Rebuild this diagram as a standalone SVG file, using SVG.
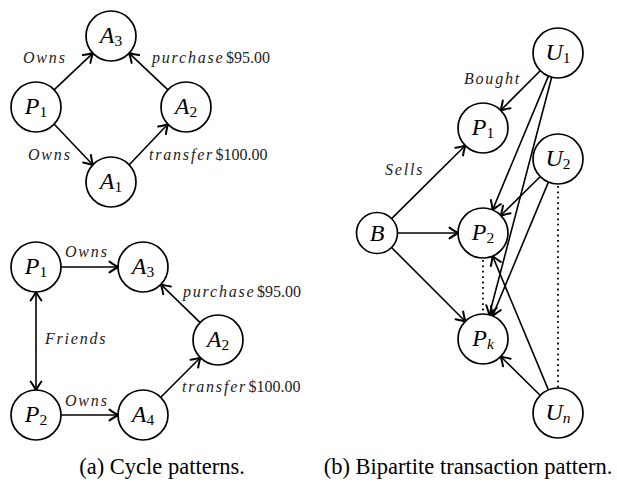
<svg xmlns="http://www.w3.org/2000/svg" width="617" height="482" viewBox="0 0 617 482">
<style>
.n{fill:#fff;stroke:#000;stroke-width:1.7}
.e{fill:none;stroke:#000;stroke-width:1.6}
.d{fill:none;stroke:#000;stroke-width:1.8;stroke-dasharray:1.8 3.6}
.nl{font-family:'Liberation Serif','Times New Roman',serif;font-size:24px;text-anchor:middle;fill:#000}
.v{font-style:italic}
.s{font-size:15.5px}
.el{font-family:'Liberation Serif','Times New Roman',serif;font-size:16px;fill:#222}
.i{font-style:italic;letter-spacing:1.8px}
.cap{font-family:'Liberation Serif','Times New Roman',serif;font-size:22.5px;text-anchor:middle;fill:#000}
</style>
<defs>
<marker id="ar" viewBox="-11 -7 13 14" refX="0" refY="0" markerWidth="13" markerHeight="14" markerUnits="userSpaceOnUse" orient="auto-start-reverse">
<path d="M-9,-5.4 Q-3,-1.2 0,0 Q-3,1.2 -9,5.4" fill="none" stroke="#000" stroke-width="2" stroke-linecap="round" stroke-linejoin="round"/>
</marker>
</defs>

<g id="connectors">
<line class="e" x1="53.8" y1="90.2" x2="93.2" y2="52.8" marker-end="url(#ar)"/>
<line class="e" x1="53.8" y1="123.8" x2="93.2" y2="165.2" marker-end="url(#ar)"/>
<line class="e" x1="128.8" y1="165.2" x2="168.2" y2="123.8" marker-end="url(#ar)"/>
<line class="e" x1="168.2" y1="90.2" x2="128.8" y2="52.8" marker-end="url(#ar)"/>
<line class="e" x1="60.5" y1="267" x2="118.5" y2="267" marker-end="url(#ar)"/>
<line class="e" x1="60.5" y1="415" x2="118.5" y2="415" marker-end="url(#ar)"/>
<line class="e" x1="36" y1="291.5" x2="36" y2="390.5" marker-start="url(#ar)" marker-end="url(#ar)"/>
<line class="e" x1="200.4" y1="322.9" x2="160.6" y2="284.1" marker-end="url(#ar)"/>
<line class="e" x1="160.3" y1="397.7" x2="200.7" y2="357.3" marker-end="url(#ar)"/>
<line class="e" x1="540.7" y1="70.3" x2="500.3" y2="110.7" marker-end="url(#ar)"/>
<line class="e" x1="391.6" y1="218.6" x2="465.6" y2="145.3" marker-end="url(#ar)"/>
<line class="e" x1="397.5" y1="233" x2="458.5" y2="233" marker-end="url(#ar)"/>
<line class="e" x1="391.5" y1="247.5" x2="465.7" y2="321.7" marker-end="url(#ar)"/>
<line class="e" x1="548.6" y1="75.6" x2="492.4" y2="210.4" marker-end="url(#ar)"/>
<line class="e" x1="551.8" y1="76.7" x2="489.2" y2="315.3" marker-end="url(#ar)"/>
<line class="e" x1="540.6" y1="176.2" x2="500.4" y2="215.8" marker-end="url(#ar)"/>
<line class="e" x1="548.6" y1="181.6" x2="492.4" y2="316.4" marker-end="url(#ar)"/>
<line class="e" x1="548.6" y1="390.4" x2="492.4" y2="255.6" marker-end="url(#ar)"/>
<line class="e" x1="540.6" y1="395.8" x2="500.4" y2="356.2" marker-end="url(#ar)"/>
<line class="d" x1="483" y1="260" x2="483" y2="312"/>
<line class="d" x1="558" y1="186" x2="558" y2="388"/>
</g>

<g id="edge-labels" class="el">
<text x="23" y="63"><tspan class="i">Owns</tspan></text>
<text x="152" y="63"><tspan class="i">purchase</tspan><tspan dx="1.5">$95.00</tspan></text>
<text x="28" y="160"><tspan class="i">Owns</tspan></text>
<text x="149" y="160"><tspan class="i">transfer</tspan><tspan dx="1.5">$100.00</tspan></text>
<text x="65" y="257"><tspan class="i">Owns</tspan></text>
<text x="183" y="297"><tspan class="i">purchase</tspan><tspan dx="1.5">$95.00</tspan></text>
<text x="45" y="344"><tspan class="i">Friends</tspan></text>
<text x="182" y="392"><tspan class="i">transfer</tspan><tspan dx="1.5">$100.00</tspan></text>
<text x="65" y="406"><tspan class="i">Owns</tspan></text>
<text x="464" y="84"><tspan class="i">Bought</tspan></text>
<text x="385" y="175"><tspan class="i">Sells</tspan></text>
</g>

<g id="a-top-A3"><circle class="n" cx="111" cy="36" r="25"/><text class="nl" x="111" y="43"><tspan class="v">A</tspan><tspan class="s" dy="3.3">3</tspan></text></g>
<g id="a-top-P1"><circle class="n" cx="36" cy="107" r="25"/><text class="nl" x="36" y="114"><tspan class="v">P</tspan><tspan class="s" dy="3.3">1</tspan></text></g>
<g id="a-top-A2"><circle class="n" cx="186" cy="107" r="25"/><text class="nl" x="186" y="114"><tspan class="v">A</tspan><tspan class="s" dy="3.3">2</tspan></text></g>
<g id="a-top-A1"><circle class="n" cx="111" cy="182" r="25"/><text class="nl" x="111" y="189"><tspan class="v">A</tspan><tspan class="s" dy="3.3">1</tspan></text></g>

<g id="a-bot-P1"><circle class="n" cx="36" cy="267" r="25"/><text class="nl" x="36" y="274"><tspan class="v">P</tspan><tspan class="s" dy="3.3">1</tspan></text></g>
<g id="a-bot-A3"><circle class="n" cx="143" cy="267" r="25"/><text class="nl" x="143" y="274"><tspan class="v">A</tspan><tspan class="s" dy="3.3">3</tspan></text></g>
<g id="a-bot-A2"><circle class="n" cx="218" cy="340" r="25"/><text class="nl" x="218" y="347"><tspan class="v">A</tspan><tspan class="s" dy="3.3">2</tspan></text></g>
<g id="a-bot-P2"><circle class="n" cx="36" cy="415" r="25"/><text class="nl" x="36" y="422"><tspan class="v">P</tspan><tspan class="s" dy="3.3">2</tspan></text></g>
<g id="a-bot-A4"><circle class="n" cx="143" cy="415" r="25"/><text class="nl" x="143" y="422"><tspan class="v">A</tspan><tspan class="s" dy="3.3">4</tspan></text></g>

<g id="b-U1"><circle class="n" cx="558" cy="53" r="25"/><text class="nl" x="558" y="60"><tspan class="v">U</tspan><tspan class="s" dy="3.3">1</tspan></text></g>
<g id="b-P1"><circle class="n" cx="483" cy="128" r="25"/><text class="nl" x="483" y="135"><tspan class="v">P</tspan><tspan class="s" dy="3.3">1</tspan></text></g>
<g id="b-U2"><circle class="n" cx="558" cy="159" r="25"/><text class="nl" x="558" y="166"><tspan class="v">U</tspan><tspan class="s" dy="3.3">2</tspan></text></g>
<g id="b-B"><circle class="n" cx="377" cy="233" r="20.5"/><text class="nl" x="377" y="241"><tspan class="v">B</tspan></text></g>
<g id="b-P2"><circle class="n" cx="483" cy="233" r="25"/><text class="nl" x="483" y="240"><tspan class="v">P</tspan><tspan class="s" dy="3.3">2</tspan></text></g>
<g id="b-Pk"><circle class="n" cx="483" cy="339" r="25"/><text class="nl" x="483" y="346"><tspan class="v">P</tspan><tspan class="s v" dy="3.3">k</tspan></text></g>
<g id="b-Un"><circle class="n" cx="558" cy="413" r="25"/><text class="nl" x="558" y="420"><tspan class="v">U</tspan><tspan class="s v" dy="3.3">n</tspan></text></g>

<g id="captions">
<text class="cap" x="162" y="474">(a) Cycle patterns.</text>
<text class="cap" x="468" y="474">(b) Bipartite transaction pattern.</text>
</g>
</svg>
